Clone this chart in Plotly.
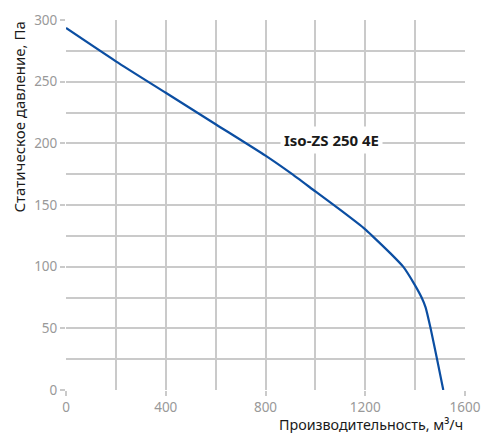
import plotly.graph_objects as go

flow = [0, 200, 400, 600, 800, 900, 1000, 1100, 1200, 1228, 1300, 1352, 1395, 1426, 1442, 1462, 1488, 1513]
pressure = [293.5, 266.5, 241, 215.5, 190, 176, 161, 146, 130.3, 125, 111, 100, 86.5, 75, 67, 50, 25, 0]

model_label = "Iso-ZS 250 4E"
x_title = "Производительность, м³/ч"
y_title = "Статическое давление, Па"

x_ticks = [0, 400, 800, 1200, 1600]
y_ticks = [0, 50, 100, 150, 200, 250, 300]

FONT = "Noto Sans"
GRID = "#cacaca"

fig = go.Figure()
fig.add_trace(go.Scatter(
    x=flow, y=pressure, mode="lines",
    line=dict(color="#0b4ea2", width=2.2, shape="spline", smoothing=0.6),
    hoverinfo="skip", showlegend=False,
))

fig.update_layout(
    width=482, height=433,
    margin=dict(l=66, r=17, t=20, b=43, autoexpand=False),
    paper_bgcolor="white", plot_bgcolor="white",
    font=dict(family=FONT, size=13.5, color="#999999"),
    xaxis=dict(
        range=[0, 1600], tickvals=x_ticks, ticktext=[str(v) for v in x_ticks],
        showgrid=True, gridcolor=GRID, gridwidth=2, automargin=False,
        ticks="outside", ticklen=5, tickcolor=GRID, tickwidth=2,
        minor=dict(dtick=200, showgrid=True, gridcolor=GRID, gridwidth=2),
        showline=False, zeroline=False, fixedrange=True,
        tickfont=dict(family=FONT, size=13.5, color="#999999"),
    ),
    yaxis=dict(
        range=[0, 300], tickvals=y_ticks, ticktext=[str(v) for v in y_ticks],
        showgrid=True, gridcolor=GRID, gridwidth=2, automargin=False,
        ticks="outside", ticklen=5, tickcolor=GRID, tickwidth=2,
        minor=dict(dtick=25, showgrid=True, gridcolor=GRID, gridwidth=2),
        showline=False, zeroline=False, fixedrange=True,
        tickfont=dict(family=FONT, size=13.5, color="#999999"),
    ),
    annotations=[
        dict(x=1065, y=203, xref="x", yref="y", text="<b>" + model_label + "</b>",
             showarrow=False, bgcolor="white", borderpad=3,
             font=dict(family=FONT, size=15, color="#1a1a1a")),
        dict(x=1, y=0, xref="paper", yref="paper", xanchor="right", yanchor="top",
             yshift=-23, text=x_title, showarrow=False,
             font=dict(family=FONT, size=14.3, color="#1a1a1a")),
        dict(x=0, y=1, xref="paper", yref="paper", xanchor="center", yanchor="top",
             xshift=-48, text=y_title, textangle=-90, showarrow=False,
             font=dict(family=FONT, size=15, color="#1a1a1a")),
    ],
)

fig.write_html(
    "out.html",
    config={"displayModeBar": False, "staticPlot": True},
    post_script="document.body.style.margin='0';document.body.style.overflow='hidden';",
)
